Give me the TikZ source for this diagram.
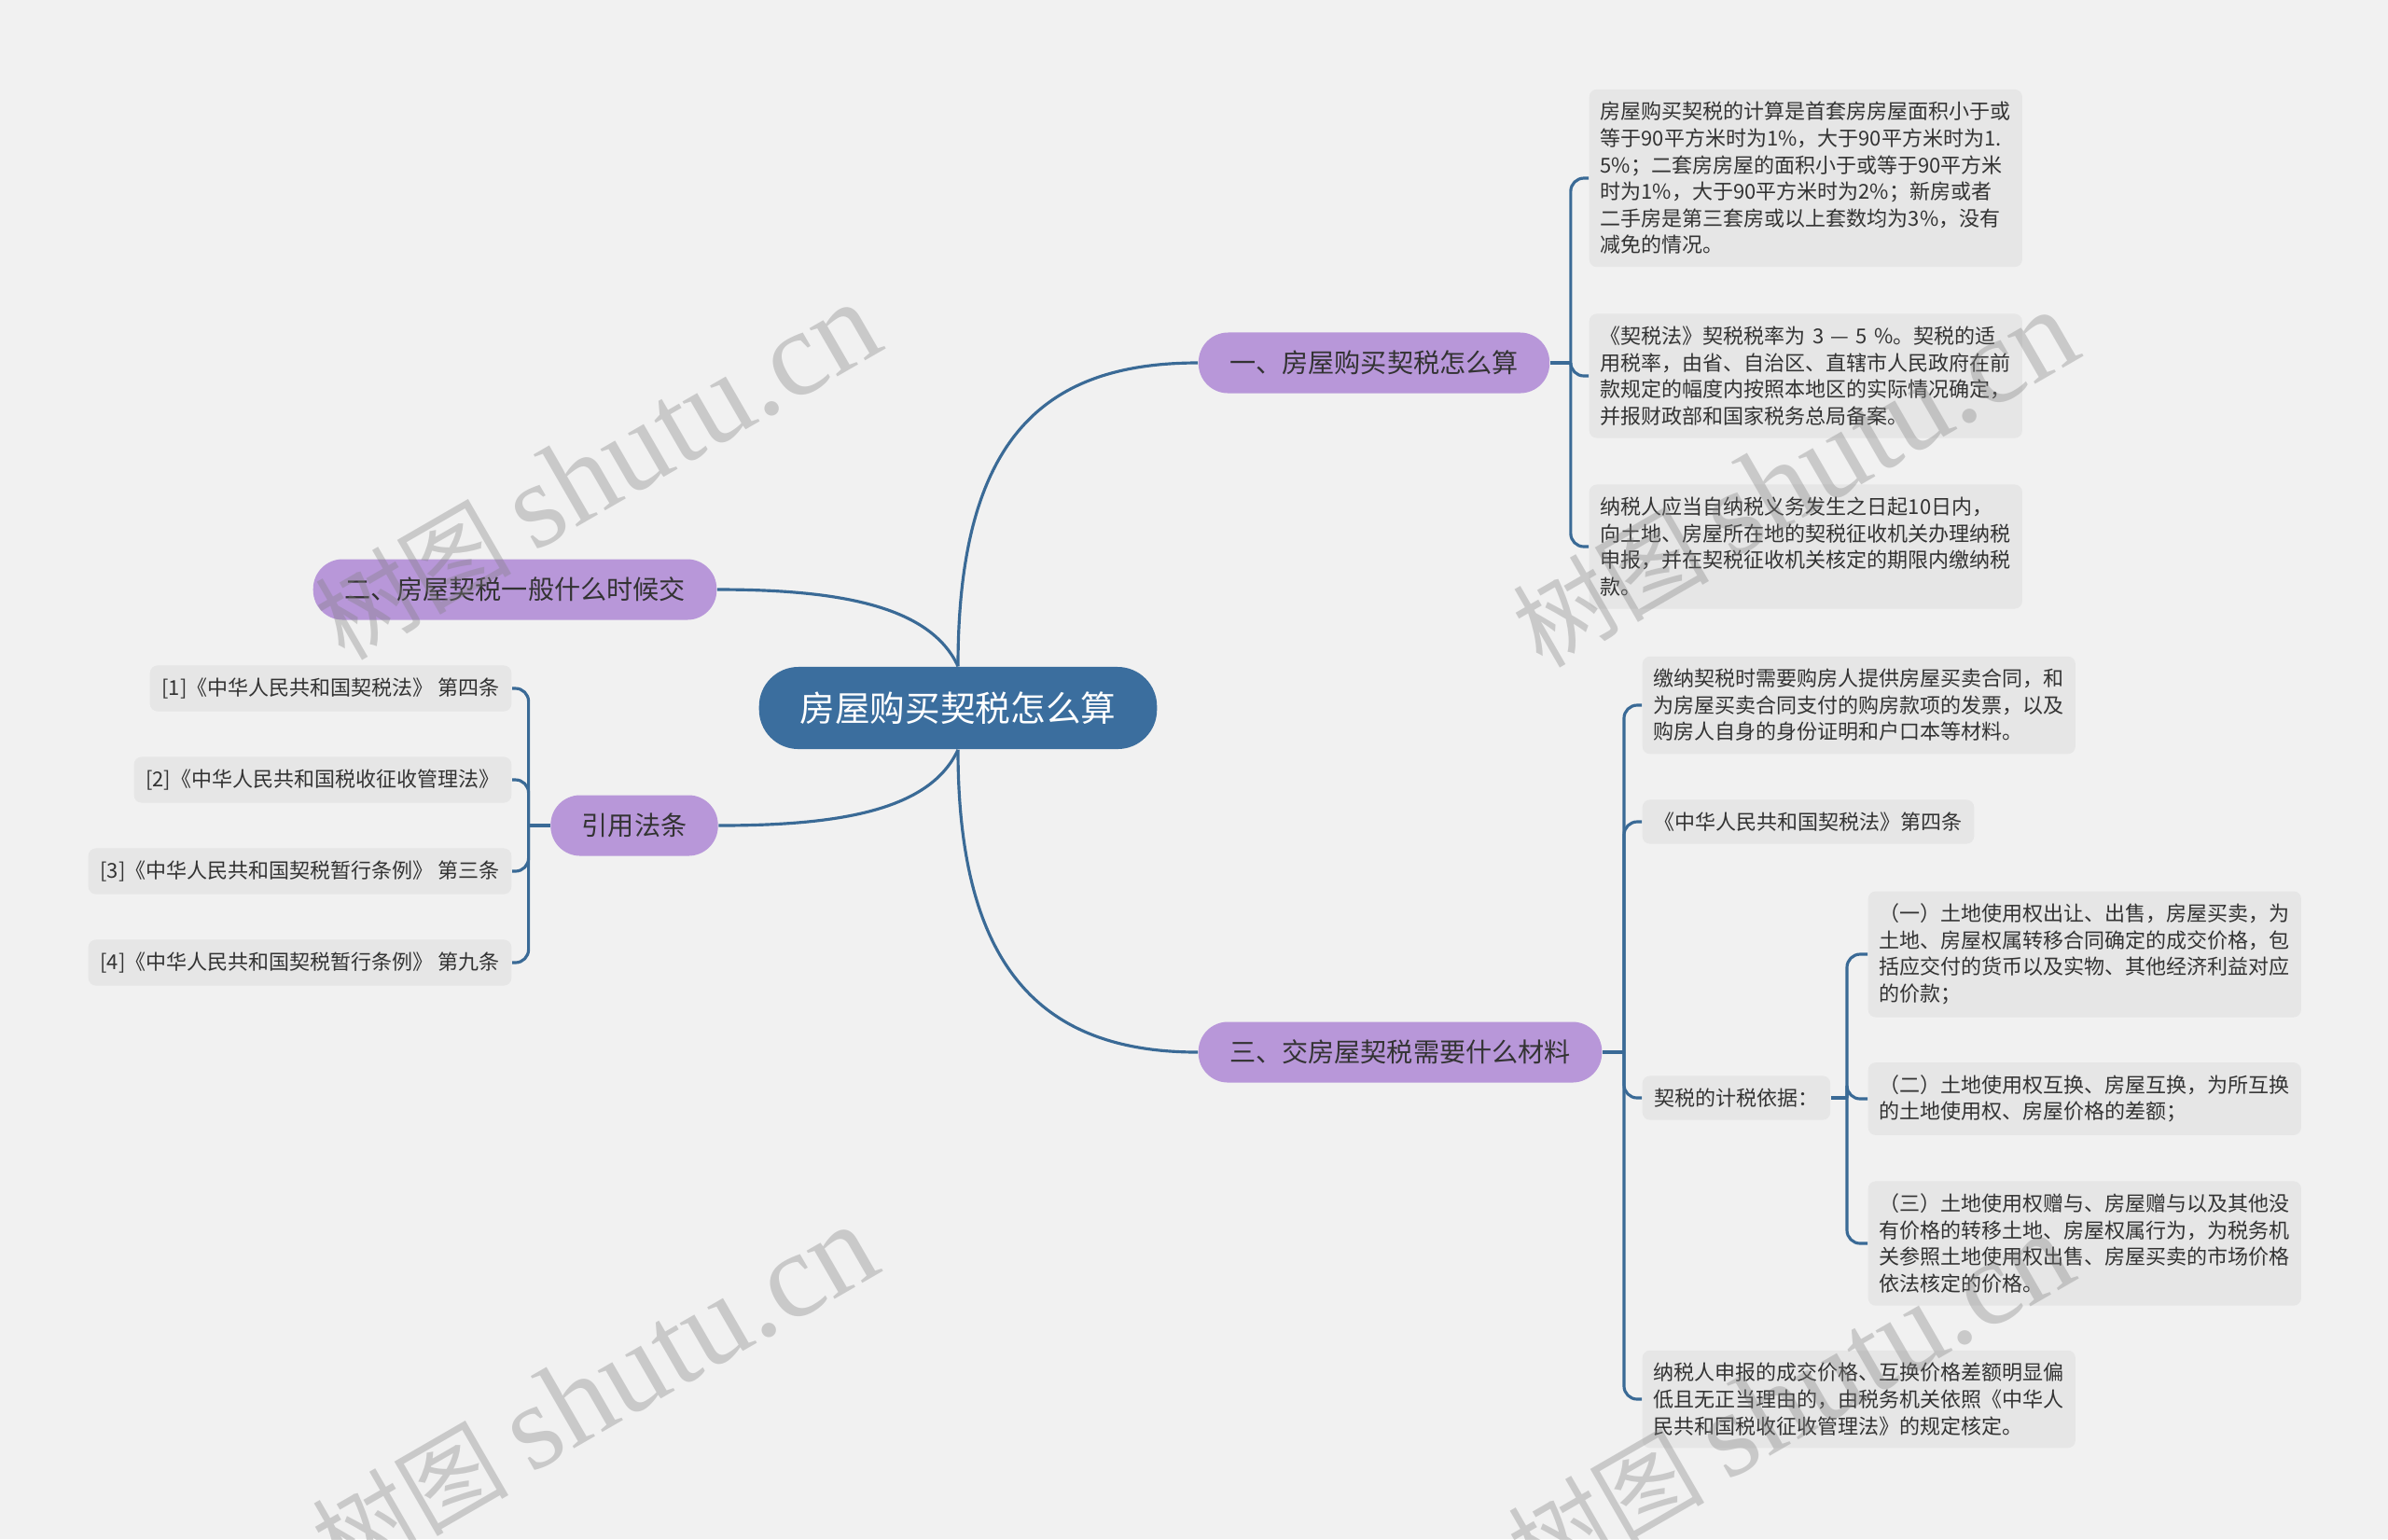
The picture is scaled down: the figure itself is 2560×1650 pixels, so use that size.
\documentclass[tikz,border=0pt]{standalone}
\usepackage{fontspec}
\setmainfont{Noto Sans CJK SC}
\newfontfamily\markfont{Liberation Serif}
\usetikzlibrary{positioning,calc}
\definecolor{pagegrey}{HTML}{F1F1F1}
\definecolor{notegrey}{HTML}{E6E6E6}
\definecolor{topicpurple}{HTML}{B897D9}
\definecolor{rootblue}{HTML}{3B6E9E}
\definecolor{linkblue}{HTML}{3A6A96}
\definecolor{inkgrey}{HTML}{333333}

\begin{document}
\begin{tikzpicture}[x=0.01cm,y=-0.01cm,
  link/.style={draw=linkblue,line width=0.9pt},
  rootbox/.style={fill=rootblue,text=white,rounded corners=12pt,minimum height=0.88cm,inner xsep=12.5pt,font=\fontsize{10.7pt}{12pt}\selectfont},
  topic/.style={fill=topicpurple,text=inkgrey,rounded corners=9pt,minimum height=0.65cm,inner xsep=9.5pt,font=\fontsize{8pt}{10pt}\selectfont},
  note/.style={fill=notegrey,text=inkgrey,rounded corners=2.3pt,inner xsep=3.6pt,inner ysep=3.8pt,align=left,font=\fontsize{6.26pt}{8.14pt}\selectfont},
  widenote/.style={note,inner xsep=3.4pt,text width=4.4cm},
  wmark/.style={text=gray,opacity=0.35,rotate=30,font=\fontsize{30pt}{40pt}\selectfont}]
  % Page
  \clip (0,0) rectangle (2560,1650);
  \fill[pagegrey] (0,0) rectangle (2560,1650);
  % Root and main topics
  \node[rootbox] (root) at (1027,759) {房屋购买契税怎么算};
  \node[topic] (calc) at (1473,389) {一、房屋购买契税怎么算};
  \node[topic] (when) at (552,632) {二、房屋契税一般什么时候交};
  \node[topic] (laws) at (680,885) {引用法条};
  \node[topic] (docs) at (1501,1128) {三、交房屋契税需要什么材料};
  \draw[link] (root.north) .. controls +(0,-245) and +(-165,0) .. (calc.west);
  \draw[link] (root.north) .. controls +(-30,-65) and +(130,0) .. (when.east);
  \draw[link] (root.south) .. controls +(-30,65) and +(130,0) .. (laws.east);
  \draw[link] (root.south) .. controls +(0,237) and +(-165,0) .. (docs.west);
  % How it is calculated
  \node[widenote,anchor=west] (calc1) at (1703,191) {房屋购买契税的计算是首套房房屋面积小于或\\等于90平方米时为1\%，大于90平方米时为1.\\5\%；二套房房屋的面积小于或等于90平方米\\时为1\%，大于90平方米时为2\%；新房或者\\二手房是第三套房或以上套数均为3\%，没有\\减免的情况。};
  \node[widenote,anchor=west] (calc2) at (1703,403) {《契税法》契税税率为 3 — 5 \%。契税的适\\用税率，由省、自治区、直辖市人民政府在前\\款规定的幅度内按照本地区的实际情况确定，\\并报财政部和国家税务总局备案。};
  \node[widenote,anchor=west] (calc3) at (1703,586) {纳税人应当自纳税义务发生之日起10日内，\\向土地、房屋所在地的契税征收机关办理纳税\\申报，并在契税征收机关核定的期限内缴纳税\\款。};
  \draw[link] (calc.east) -- ++(22,0) coordinate (calcfork);
  \foreach \n in {calc1,calc2,calc3}
    \draw[link,rounded corners=4pt] (calcfork) |- (\n.west);
  % Materials
  \node[widenote,anchor=west] (docs1) at (1760,756) {缴纳契税时需要购房人提供房屋买卖合同，和\\为房屋买卖合同支付的购房款项的发票，以及\\购房人自身的身份证明和户口本等材料。};
  \node[note,anchor=west] (docs2) at (1760,881) {《中华人民共和国契税法》第四条};
  \node[note,anchor=west] (docs3) at (1760,1177) {契税的计税依据：};
  \node[widenote,anchor=west] (docs4) at (1760,1500) {纳税人申报的成交价格、互换价格差额明显偏\\低且无正当理由的，由税务机关依照《中华人\\民共和国税收征收管理法》的规定核定。};
  \draw[link] (docs.east) -- ++(23,0) coordinate (docsfork);
  \foreach \n in {docs1,docs2,docs3,docs4}
    \draw[link,rounded corners=4pt] (docsfork) |- (\n.west);
  % Tax base
  \node[widenote,anchor=west] (base1) at (2002,1023) {（一）土地使用权出让、出售，房屋买卖，为\\土地、房屋权属转移合同确定的成交价格，包\\括应交付的货币以及实物、其他经济利益对应\\的价款；};
  \node[widenote,anchor=west] (base2) at (2002,1178) {（二）土地使用权互换、房屋互换，为所互换\\的土地使用权、房屋价格的差额；};
  \node[widenote,anchor=west] (base3) at (2002,1333) {（三）土地使用权赠与、房屋赠与以及其他没\\有价格的转移土地、房屋权属行为，为税务机\\关参照土地使用权出售、房屋买卖的市场价格\\依法核定的价格。};
  \coordinate (basefork) at (1980,1177);
  \draw[link] (docs3.east) -- (basefork);
  \foreach \n in {base1,base2,base3}
    \draw[link,rounded corners=4pt] (basefork) |- (\n.west);
  % Cited laws
  \node[note,anchor=east] (law1) at (549,738) {[1]《中华人民共和国契税法》 第四条};
  \node[note,anchor=east] (law2) at (549,836) {[2]《中华人民共和国税收征收管理法》};
  \node[note,anchor=east] (law3) at (549,934) {[3]《中华人民共和国契税暂行条例》 第三条};
  \node[note,anchor=east] (law4) at (549,1032) {[4]《中华人民共和国契税暂行条例》 第九条};
  \draw[link] (laws.west) -- ++(-23,0) coordinate (lawsfork);
  \foreach \n in {law1,law2,law3,law4}
    \draw[link,rounded corners=4pt] (lawsfork) |- (\n.east);
  % Watermarks
  \foreach \wx/\wy in {640/506,1924/514,637/1494,1919/1502}
    \node[wmark] at (\wx,\wy) {树图 {\markfont\fontsize{37pt}{40pt}\selectfont shutu.cn}};
\end{tikzpicture}
\end{document}
